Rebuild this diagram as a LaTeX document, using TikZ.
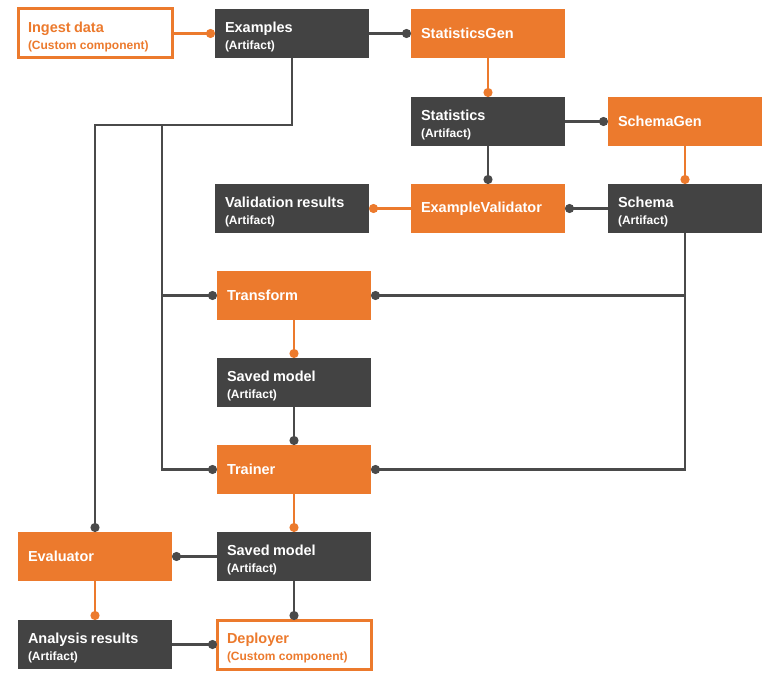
\documentclass[tikz,border=0pt]{standalone}
\usepackage{fontspec}
\setmainfont{Liberation Sans}
\usetikzlibrary{arrows.meta}
\definecolor{tfxorange}{HTML}{EC7A2D}
\definecolor{tfxdark}{HTML}{434343}
\definecolor{tfxline}{HTML}{4A4A4A}
\newcommand{\ttl}[1]{{\fontsize{14.5}{16}\selectfont\bfseries #1}}
\newcommand{\sub}[1]{{\fontsize{12}{14}\selectfont\bfseries #1}}
\newcommand{\twol}[2]{\rule{0pt}{17pt}\ttl{#1}\\[5pt]\sub{#2}}
\begin{document}
\begin{tikzpicture}[x=1pt,y=-1pt,
  box/.style={rectangle, anchor=north west, minimum width=154pt, minimum height=49pt,
    inner sep=0pt, outer sep=0pt, text width=134pt, align=left},
  comp/.style={box, fill=tfxorange, text=white},
  art/.style={box, fill=tfxdark, text=white},
  custom/.style={box, draw=tfxorange, line width=3pt, fill=white, text=tfxorange},
  darkc/.style={draw=tfxline, line width=2.3pt, -{Circle[length=9pt]}},
  orangec/.style={draw=tfxorange, line width=2.3pt, -{Circle[length=9pt]}},
]
\useasboundingbox (0,0) rectangle (768,677);
% nodes
\node[custom] (ingest) at (18,9) {\twol{Ingest data}{(Custom component)}};
\node[art] (examples) at (215,9) {\twol{Examples}{(Artifact)}};
\node[comp] (statsgen) at (411,9) {\ttl{StatisticsGen}};
\node[art] (stats) at (411,97) {\twol{Statistics}{(Artifact)}};
\node[comp] (schemagen) at (608,97) {\ttl{SchemaGen}};
\node[art] (valres) at (215,184) {\twol{Validation results}{(Artifact)}};
\node[comp] (exval) at (411,184) {\ttl{ExampleValidator}};
\node[art] (schema) at (608,184) {\twol{Schema}{(Artifact)}};
\node[comp] (transform) at (217,271) {\ttl{Transform}};
\node[art] (saved1) at (217,358) {\twol{Saved model}{(Artifact)}};
\node[comp] (trainer) at (217,445) {\ttl{Trainer}};
\node[art] (saved2) at (217,532) {\twol{Saved model}{(Artifact)}};
\node[comp] (evaluator) at (18,532) {\ttl{Evaluator}};
\node[art] (analysis) at (18,620) {\twol{Analysis results}{(Artifact)}};
\node[custom] (deployer) at (217,620) {\twol{Deployer}{(Custom component)}};
\coordinate (corner) at (95,125);
\coordinate (bus) at (162,125);
% connectors
\draw[orangec] (ingest.east) -- (examples.west);
\draw[darkc] (examples.east) -- (statsgen.west);
\draw[orangec] (statsgen.south) -- (stats.north);
\draw[darkc] (stats.east) -- (schemagen.west);
\draw[darkc] (stats.south) -- (exval.north);
\draw[orangec] (schemagen.south) -- (schema.north);
\draw[darkc] (schema.west) -- (exval.east);
\draw[orangec] (exval.west) -- (valres.east);
\draw[darkc] (examples.south) |- (corner) -- (evaluator.north);
\draw[darkc] (bus) |- (transform.west);
\draw[darkc] (bus) |- (trainer.west);
\draw[darkc] (schema.south) |- (transform.east);
\draw[darkc] (schema.south) |- (trainer.east);
\draw[orangec] (transform.south) -- (saved1.north);
\draw[darkc] (saved1.south) -- (trainer.north);
\draw[orangec] (trainer.south) -- (saved2.north);
\draw[darkc] (saved2.west) -- (evaluator.east);
\draw[darkc] (saved2.south) -- (deployer.north);
\draw[orangec] (evaluator.south) -- (analysis.north);
\draw[darkc] (analysis.east) -- (deployer.west);
\end{tikzpicture}
\end{document}
